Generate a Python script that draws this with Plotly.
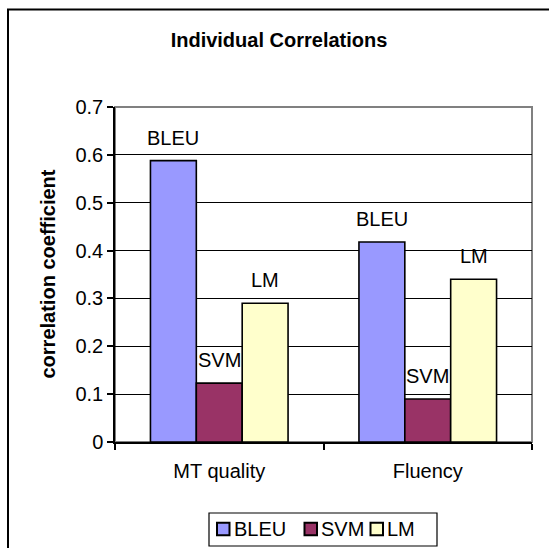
import plotly.graph_objects as go

categories = ["MT quality", "Fluency"]
series_names = ["BLEU", "SVM", "LM"]
bleu = [0.588, 0.418]
svm = [0.123, 0.090]
lm = [0.290, 0.340]
colors = ["#9999FF", "#993366", "#FFFFCC"]
y_ticks = [0, 0.1, 0.2, 0.3, 0.4, 0.5, 0.6, 0.7]
y_ticklabels = ["0", "0.1", "0.2", "0.3", "0.4", "0.5", "0.6", "0.7"]

W, H = 549, 548
ML, MR, MT, MB = 115, 17, 107, 106
PW, PH = W - ML - MR, H - MT - MB
FONT = "Arial, Liberation Sans, sans-serif"
FS = 20
LFS = 20
BARGAP = 0.34

def px_x(px):
    return (px - ML) / PW

def px_y(py):
    return (H - MB - py) / PH

xs = list(range(len(categories)))
values = [bleu, svm, lm]

fig = go.Figure()
for name, vals, col in zip(series_names, values, colors):
    fig.add_trace(go.Bar(
        x=xs, y=vals, name=name,
        marker=dict(color=col, line=dict(color="black", width=1.6)),
        hoverinfo="skip", showlegend=False,
    ))

bw = (1 - BARGAP) / len(series_names)
annotations = []
for j, (name, vals) in enumerate(zip(series_names, values)):
    for i, v in enumerate(vals):
        annotations.append(dict(
            x=xs[i] + (j - (len(series_names) - 1) / 2) * bw, y=v,
            xref="x", yref="y", text=name, showarrow=False,
            yanchor="middle", yshift=23,
            font=dict(family=FONT, size=FS, color="black"),
        ))

annotations.append(dict(
    x=px_x(47), y=0.5, xref="paper", yref="paper",
    text="<b>correlation coefficient</b>", textangle=-90, showarrow=False,
    xanchor="center", yanchor="middle",
    font=dict(family=FONT, size=FS, color="black"),
))

shapes = [
    # outer chart border (only top and left visible)
    dict(type="rect", xref="paper", yref="paper",
         x0=px_x(8), y0=px_y(600), x1=px_x(600), y1=px_y(9.5),
         line=dict(color="black", width=2), fillcolor="rgba(0,0,0,0)", layer="below"),
    # plot area border
    dict(type="rect", xref="paper", yref="paper", x0=0, y0=0, x1=1, y1=1,
         line=dict(color="#808080", width=2), fillcolor="rgba(0,0,0,0)", layer="below"),
    # legend box
    dict(type="rect", xref="paper", yref="paper",
         x0=px_x(209), y0=px_y(546), x1=px_x(437), y1=px_y(513),
         line=dict(color="black", width=1.2), fillcolor="white", layer="above"),
]

# custom legend entries (swatch + label), laid out like the Excel legend
legend_swatch_left = [217, 304.5, 370.5]
SW = 12.5
LEG_CY = 529
for name, col, sx in zip(series_names, colors, legend_swatch_left):
    shapes.append(dict(
        type="rect", xref="paper", yref="paper",
        x0=px_x(sx), x1=px_x(sx + SW), y0=px_y(LEG_CY + SW / 2), y1=px_y(LEG_CY - SW / 2),
        line=dict(color="black", width=2), fillcolor=col, layer="above",
    ))
    annotations.append(dict(
        x=px_x(sx + SW + 2), y=px_y(LEG_CY), xref="paper", yref="paper",
        text=name, showarrow=False, xanchor="left", yanchor="middle",
        font=dict(family=FONT, size=LFS, color="black"),
    ))

fig.update_layout(
    width=W, height=H,
    margin=dict(l=ML, r=MR, t=MT, b=MB, autoexpand=False),
    paper_bgcolor="white", plot_bgcolor="white",
    barmode="group", bargap=BARGAP, bargroupgap=0,
    font=dict(family=FONT, size=FS, color="black"),
    title=dict(text="<b>Individual Correlations</b>", x=279 / W, xref="container",
               xanchor="center", y=1 - 40 / H, yref="container", yanchor="middle",
               font=dict(family=FONT, size=FS, color="black")),
    showlegend=False,
    annotations=annotations,
    shapes=shapes,
)

fig.update_xaxes(
    range=[-0.5, 1.5], tickmode="array", tickvals=xs, ticktext=categories,
    ticks="", showgrid=False, zeroline=False,
    showline=True, linecolor="black", linewidth=1.5,
    ticklabelstandoff=10,
    minor=dict(tick0=-0.5, dtick=1, ticks="outside", ticklen=6, tickcolor="black", tickwidth=1.5, showgrid=False),
    tickfont=dict(family=FONT, size=FS, color="black"),
    fixedrange=True,
)
fig.update_yaxes(
    range=[0, 0.7], tickmode="array", tickvals=y_ticks, ticktext=y_ticklabels,
    ticks="outside", ticklen=6, tickcolor="black", tickwidth=1.5,
    showgrid=True, gridcolor="black", gridwidth=1,
    zeroline=False, showline=True, linecolor="black", linewidth=1.5,
    tickfont=dict(family=FONT, size=FS, color="black"),
    fixedrange=True,
)

fig.write_html(
    "out.html",
    config={"displayModeBar": False},
    post_script="document.body.style.margin='0';document.body.style.overflow='hidden';",
)
